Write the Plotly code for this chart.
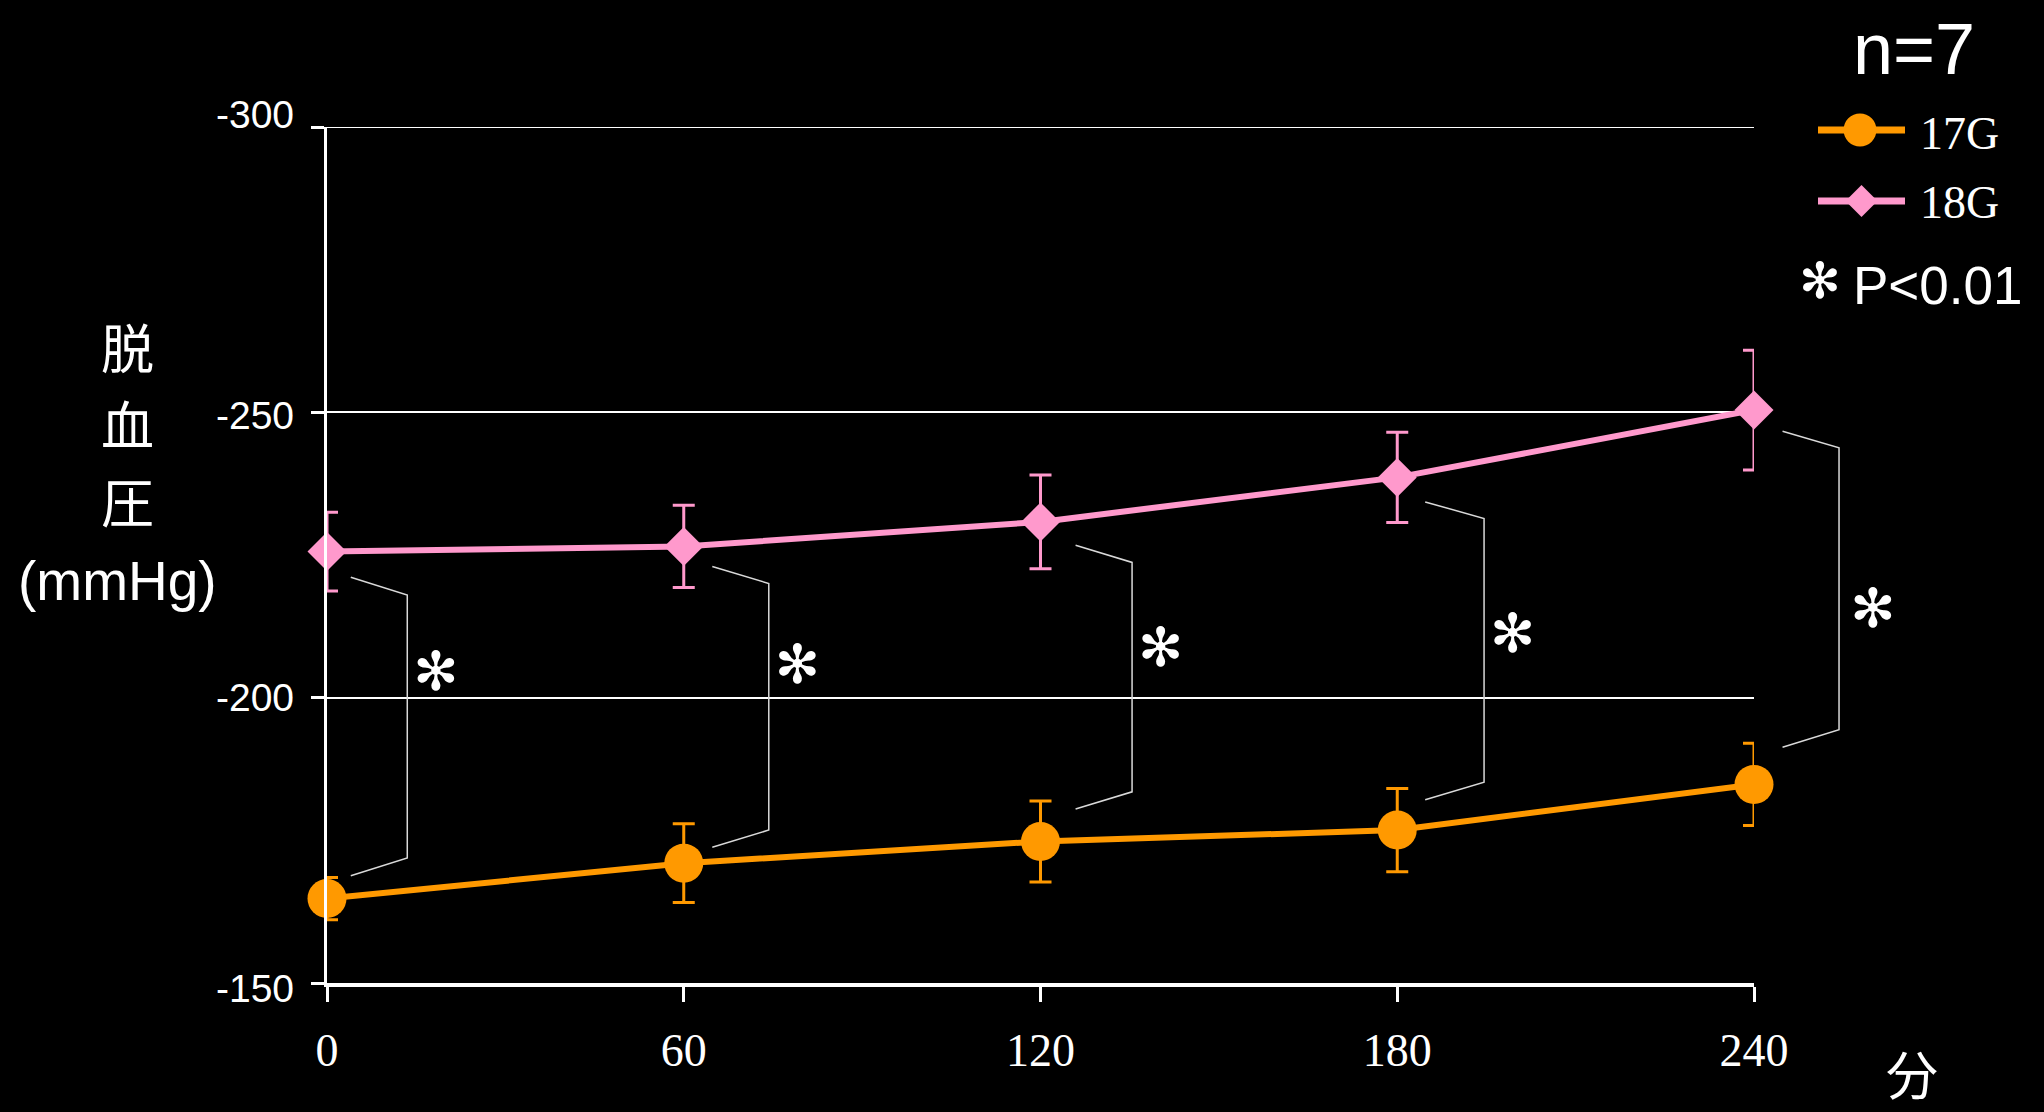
import plotly.graph_objects as go

# ---- data -------------------------------------------------------------
minutes = [0, 60, 120, 180, 240]
x_tick_labels = ["0", "60", "120", "180", "240"]
y_tick_values = [-300, -250, -200, -150]
y_tick_labels = ["-300", "-250", "-200", "-150"]

g17_mean = [-164.8, -171.0, -174.8, -176.8, -184.8]
g17_sd = [3.7, 6.9, 7.1, 7.3, 7.2]
g18_mean = [-225.6, -226.5, -230.8, -238.6, -250.4]
g18_sd = [6.9, 7.2, 8.2, 7.9, 10.5]

# significance brackets (one per time point) and their star marks
bracket_x_end = [4.0, 64.8, 125.9, 184.7, 244.8]
bracket_x_side = [13.5, 74.3, 135.4, 194.6, 254.3]
bracket_top_end = [-221.1, -223.0, -226.7, -234.3, -246.7]
bracket_top_side = [-218.0, -220.0, -223.7, -231.4, -243.8]
bracket_bot_side = [-171.9, -176.8, -183.5, -185.2, -194.4]
bracket_bot_end = [-168.8, -173.8, -180.5, -182.1, -191.3]
star_x = [18.3, 79.1, 140.2, 199.4, 260.0]
star_y = [-203.7, -204.9, -208.0, -210.3, -214.8]

# ---- styling ----------------------------------------------------------
W, H = 2044, 1112
ORANGE = "#FF9900"
PINK = "#FF99CC"
WHITE = "#FFFFFF"
SANS = "Liberation Sans, Arial, sans-serif"
SERIF = "Liberation Serif, Times New Roman, serif"
CJK = "Noto Sans CJK JP, sans-serif"
STAR = "\u273B"

# plot area in pixels
PLOT_L, PLOT_R, PLOT_T, PLOT_B = 327, 1754, 127, 983
X_MAX = 240
Y_RANGE = [-150, -300]
# wider overlay area for the brackets that sit right of the last point
OVER_R = 2040
OVER_X_MAX = X_MAX * (OVER_R - PLOT_L) / (PLOT_R - PLOT_L)
# vertical nudge (px, downwards) of each y tick label
Y_LABEL_NUDGE = [-12, 3, 0, 5]


def px(x):
    return x / W


def py(y):
    return 1 - y / H


fig = go.Figure()

fig.add_trace(go.Scatter(
    x=minutes, y=g17_mean, name="17G", mode="lines+markers",
    line=dict(color=ORANGE, width=6),
    marker=dict(symbol="circle", size=39, color=ORANGE),
    error_y=dict(type="data", array=g17_sd, color=ORANGE, thickness=3, width=11),
    cliponaxis=False, showlegend=False,
))
fig.add_trace(go.Scatter(
    x=minutes, y=g18_mean, name="18G", mode="lines+markers",
    line=dict(color=PINK, width=6),
    marker=dict(symbol="diamond", size=30, color=PINK),
    error_y=dict(type="data", array=g18_sd, color=PINK, thickness=3, width=11),
    cliponaxis=False, showlegend=False,
))

# bracket lines
bx, by = [], []
for i in range(len(minutes)):
    bx += [bracket_x_end[i], bracket_x_side[i], bracket_x_side[i], bracket_x_end[i], None]
    by += [bracket_top_end[i], bracket_top_side[i], bracket_bot_side[i], bracket_bot_end[i], None]
fig.add_trace(go.Scatter(
    x=bx, y=by, mode="lines", xaxis="x2", yaxis="y2",
    line=dict(color="#D9D9D9", width=1.5),
    hoverinfo="skip", showlegend=False,
))

# significance stars
fig.add_trace(go.Scatter(
    x=star_x, y=star_y, mode="text", text=[STAR] * len(star_x),
    xaxis="x2", yaxis="y2",
    textfont=dict(family="DejaVu Sans", size=54, color=WHITE),
    hoverinfo="skip", showlegend=False, cliponaxis=False,
))

# ---- legend (hand drawn) ----------------------------------------------
shapes = [
    # top grid line at -300
    dict(type="line", xref="x", yref="y", x0=0, x1=X_MAX, y0=y_tick_values[0],
         y1=y_tick_values[0], line=dict(color=WHITE, width=2), layer="below"),
]
for yc, col in [(130, ORANGE), (201, PINK)]:
    shapes.append(dict(type="line", xref="paper", yref="paper",
                       x0=px(1818), x1=px(1905), y0=py(yc), y1=py(yc),
                       line=dict(color=col, width=7)))
shapes.append(dict(type="circle", xref="paper", yref="paper",
                   x0=px(1860 - 16.5), x1=px(1860 + 16.5),
                   y0=py(130 + 16.5), y1=py(130 - 16.5),
                   fillcolor=ORANGE, line=dict(width=0)))
cx, cy, r = 1861.5, 201, 16
shapes.append(dict(type="path", xref="paper", yref="paper",
                   path=f"M{px(cx - r)},{py(cy)} L{px(cx)},{py(cy - r)} "
                        f"L{px(cx + r)},{py(cy)} L{px(cx)},{py(cy + r)} Z",
                   fillcolor=PINK, line=dict(width=0)))

annotations = []


def label(text, x, y, size, family, xanchor="center"):
    annotations.append(dict(
        text=text, x=px(x), y=py(y), xref="paper", yref="paper",
        xanchor=xanchor, yanchor="middle", showarrow=False,
        font=dict(family=family, size=size, color=WHITE),
    ))


label("n=7", 1914, 49, 72, SANS)
label("17G", 1918, 133, 46, SERIF, "left")
label("18G", 1918, 203, 46, SERIF, "left")
label(STAR, 1820, 281, 50, "DejaVu Sans")
label("P<0.01", 1851, 285, 53, SANS, "left")

# y-axis title, stacked vertically
for ch, yc in zip("脱血圧", [346, 423, 500]):
    label(ch, 127, yc, 53, CJK)
label("(mmHg)", 117, 581, 55, SANS)
# x-axis unit
label("分", 1912, 1072, 52, CJK)

# y tick labels
for val, txt, nudge in zip(y_tick_values, y_tick_labels, Y_LABEL_NUDGE):
    annotations.append(dict(
        text=txt, x=px(296), y=val, xref="paper", yref="y",
        xanchor="right", yanchor="middle", yshift=-nudge, showarrow=False,
        font=dict(family=SANS, size=39, color=WHITE),
    ))

fig.update_layout(
    width=W, height=H,
    margin=dict(l=0, r=0, t=0, b=0, autoexpand=False),
    paper_bgcolor="black", plot_bgcolor="rgba(0,0,0,0)",
    shapes=shapes, annotations=annotations,
    xaxis=dict(
        domain=[px(PLOT_L), px(PLOT_R)], range=[0, X_MAX],
        tickvals=minutes, ticktext=x_tick_labels,
        ticks="outside", ticklen=15, tickwidth=3, tickcolor=WHITE,
        showline=True, linewidth=4, linecolor=WHITE,
        showgrid=False, zeroline=False, automargin=False,
        tickfont=dict(family=SERIF, size=46, color=WHITE),
        ticklabelstandoff=9,
    ),
    yaxis=dict(
        domain=[py(PLOT_B), py(PLOT_T)], range=Y_RANGE,
        tickvals=y_tick_values, showticklabels=False,
        ticks="outside", ticklen=13, tickwidth=3, tickcolor=WHITE,
        showline=True, linewidth=3, linecolor=WHITE,
        showgrid=True, gridcolor=WHITE, gridwidth=2, zeroline=False,
        automargin=False,
    ),
    xaxis2=dict(domain=[px(PLOT_L), px(OVER_R)], range=[0, OVER_X_MAX],
                visible=False, anchor="y2", fixedrange=True),
    yaxis2=dict(domain=[py(PLOT_B), py(PLOT_T)], range=Y_RANGE,
                visible=False, anchor="x2", fixedrange=True),
)

fig.write_html("out.html")
